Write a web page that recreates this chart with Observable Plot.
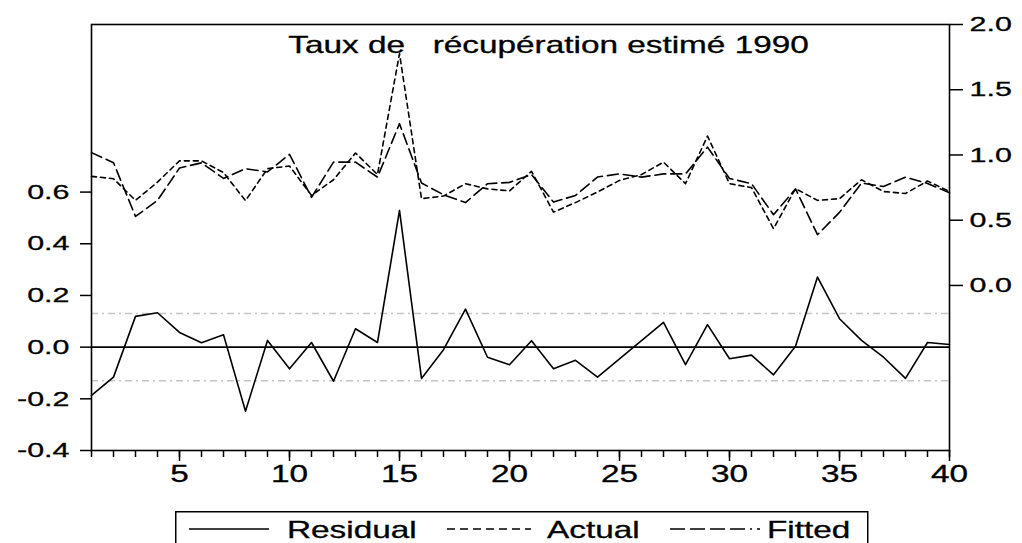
<!DOCTYPE html>
<html>
<head>
<meta charset="utf-8">
<script src="https://cdn.jsdelivr.net/npm/d3@7"></script>
<script src="https://cdn.jsdelivr.net/npm/@observablehq/plot@0.6"></script>
<style>
  html, body { margin: 0; padding: 0; background: white; }
  #wrap { position: relative; width: 1022px; height: 543px; overflow: hidden; background: white; font-family: "Liberation Sans", Arial, sans-serif; }
  #legend { position: absolute; left: 175px; top: 511px; }
</style>
</head>
<body>
<div id="wrap"><div id="chart"></div><div id="legend"></div></div>
<script>
// ---- data ----
const obs = d3.range(1, 41);
const residual = [-0.187,-0.116,0.119,0.133,0.057,0.017,0.048,-0.248,0.026,-0.084,
                  0.018,-0.132,0.071,0.018,0.529,-0.121,-0.010,0.147,-0.039,-0.068,
                  0.025,-0.084,-0.051,-0.116,-0.045,0.025,0.096,-0.068,0.087,-0.045,
                  -0.031,-0.107,0.003,0.271,0.110,0.026,-0.039,-0.121,0.018,0.010];
const actual   = [0.836,0.818,0.652,0.792,0.955,0.955,0.865,0.650,0.895,0.915,
                  0.690,0.810,1.015,0.850,1.777,0.665,0.685,0.780,0.740,0.725,
                  0.875,0.562,0.635,0.716,0.805,0.850,0.945,0.780,1.145,0.780,
                  0.750,0.435,0.742,0.652,0.665,0.810,0.720,0.705,0.800,0.720];
const fitted   = [1.018,0.941,0.529,0.652,0.900,0.940,0.820,0.895,0.870,1.005,
                  0.675,0.945,0.945,0.830,1.240,0.785,0.695,0.635,0.780,0.790,
                  0.850,0.639,0.690,0.831,0.855,0.830,0.855,0.855,1.060,0.820,
                  0.780,0.542,0.740,0.389,0.560,0.785,0.758,0.830,0.782,0.710];
const residualSE = 0.13;
const leftTicks = [-0.4, -0.2, 0.0, 0.2, 0.4, 0.6];
const rightTicks = [0.0, 0.5, 1.0, 1.5, 2.0];
const xMajorTicks = [5, 10, 15, 20, 25, 30, 35, 40];
const leftDomain = [-0.4, 1.2485];
const rightDomain = [-1.265, 2.0];
const title = "Taux de\u00a0\u00a0 récupération estimé 1990";
const legendLabels = ["Residual", "Actual", "Fitted"];

// right axis (actual/fitted) expressed on the left (residual) scale
const toLeft = d3.scaleLinear().domain(rightDomain).range(leftDomain);

const FONT = "'Liberation Sans', Arial, sans-serif";
const STRETCH = 1.45;

const chart = Plot.plot({
  width: 1022,
  height: 500,
  marginLeft: 91,
  marginRight: 73,
  marginTop: 24,
  marginBottom: 50,
  style: { fontFamily: FONT, background: "white", color: "black", overflow: "visible" },
  x: { domain: [1, 40], axis: null },
  y: { domain: leftDomain, axis: null },
  marks: [
    Plot.ruleY([-residualSE, residualSE], { stroke: "#c4c4c4", strokeWidth: 1.4, strokeDasharray: "7,4,2,4" }),
    Plot.ruleY([0], { stroke: "black", strokeWidth: 1.6 }),
    Plot.line(residual, { x: (d, i) => obs[i], y: d => d, stroke: "black", strokeWidth: 1.6 }),
    Plot.line(actual, { x: (d, i) => obs[i], y: d => toLeft(d), stroke: "black", strokeWidth: 1.6, strokeDasharray: "5,4" }),
    Plot.line(fitted, { x: (d, i) => obs[i], y: d => toLeft(d), stroke: "black", strokeWidth: 1.6, strokeDasharray: "11,5" }),
    Plot.frame({ stroke: "black", strokeWidth: 1.6 }),
    Plot.axisY(leftTicks, { anchor: "left", tickSize: 11, tickPadding: 11, fontSize: 21, strokeWidth: 1.5, tickFormat: d => d.toFixed(1) }),
    Plot.axisY(rightTicks.map(v => toLeft(v)), { anchor: "right", tickSize: 13, tickPadding: 7, fontSize: 21, strokeWidth: 1.5, tickFormat: d => toLeft.invert(d).toFixed(1) }),
    Plot.axisX(obs, { anchor: "bottom", tickSize: 7, strokeWidth: 1.5, tickFormat: () => "" }),
    Plot.axisX(xMajorTicks, { anchor: "bottom", tickSize: 11, tickPadding: 4, fontSize: 23, strokeWidth: 1.5, tickFormat: d => String(d) }),
    Plot.text([title], { frameAnchor: "top", dx: 28, dy: 21, lineAnchor: "middle", fontSize: 23, text: d => d, fill: "black" })
  ]
});
document.getElementById("chart").appendChild(chart);

function stretchTexts(root) {
  root.querySelectorAll("text").forEach(t => {
    const tr = t.getAttribute("transform") || "";
    const x = parseFloat(t.getAttribute("x")) || 0;
    t.setAttribute("transform", `${tr} translate(${x},0) scale(${STRETCH},1) translate(${-x},0)`);
    t.style.stroke = "black";
    t.style.strokeWidth = "0.3px";
  });
}
stretchTexts(chart);

// ---- legend (below the chart) ----
const lg = d3.select("#legend").append("svg")
  .attr("width", 694).attr("height", 40)
  .style("font-family", FONT).style("overflow", "visible");
lg.append("rect").attr("x", 0.75).attr("y", 0.75).attr("width", 692).attr("height", 60)
  .attr("fill", "white").attr("stroke", "black").attr("stroke-width", 1.5);
const items = [
  { x1: 14, x2: 94, tx: 112, dash: null },
  { x1: 272, x2: 356, tx: 372, dash: "8,5" },
  { x1: 495, x2: 585, tx: 592, dash: "15,5,15,5,15,5,15,5,2,5" }
];
items.forEach((it, i) => {
  const l = lg.append("line").attr("x1", it.x1).attr("x2", it.x2).attr("y1", 18).attr("y2", 18)
    .attr("stroke", "black").attr("stroke-width", 1.5);
  if (it.dash) l.attr("stroke-dasharray", it.dash);
  lg.append("text").attr("x", it.tx).attr("y", 27).attr("font-size", 23).attr("fill", "black")
    .text(legendLabels[i]);
});
stretchTexts(lg.node());
</script>
</body>
</html>
